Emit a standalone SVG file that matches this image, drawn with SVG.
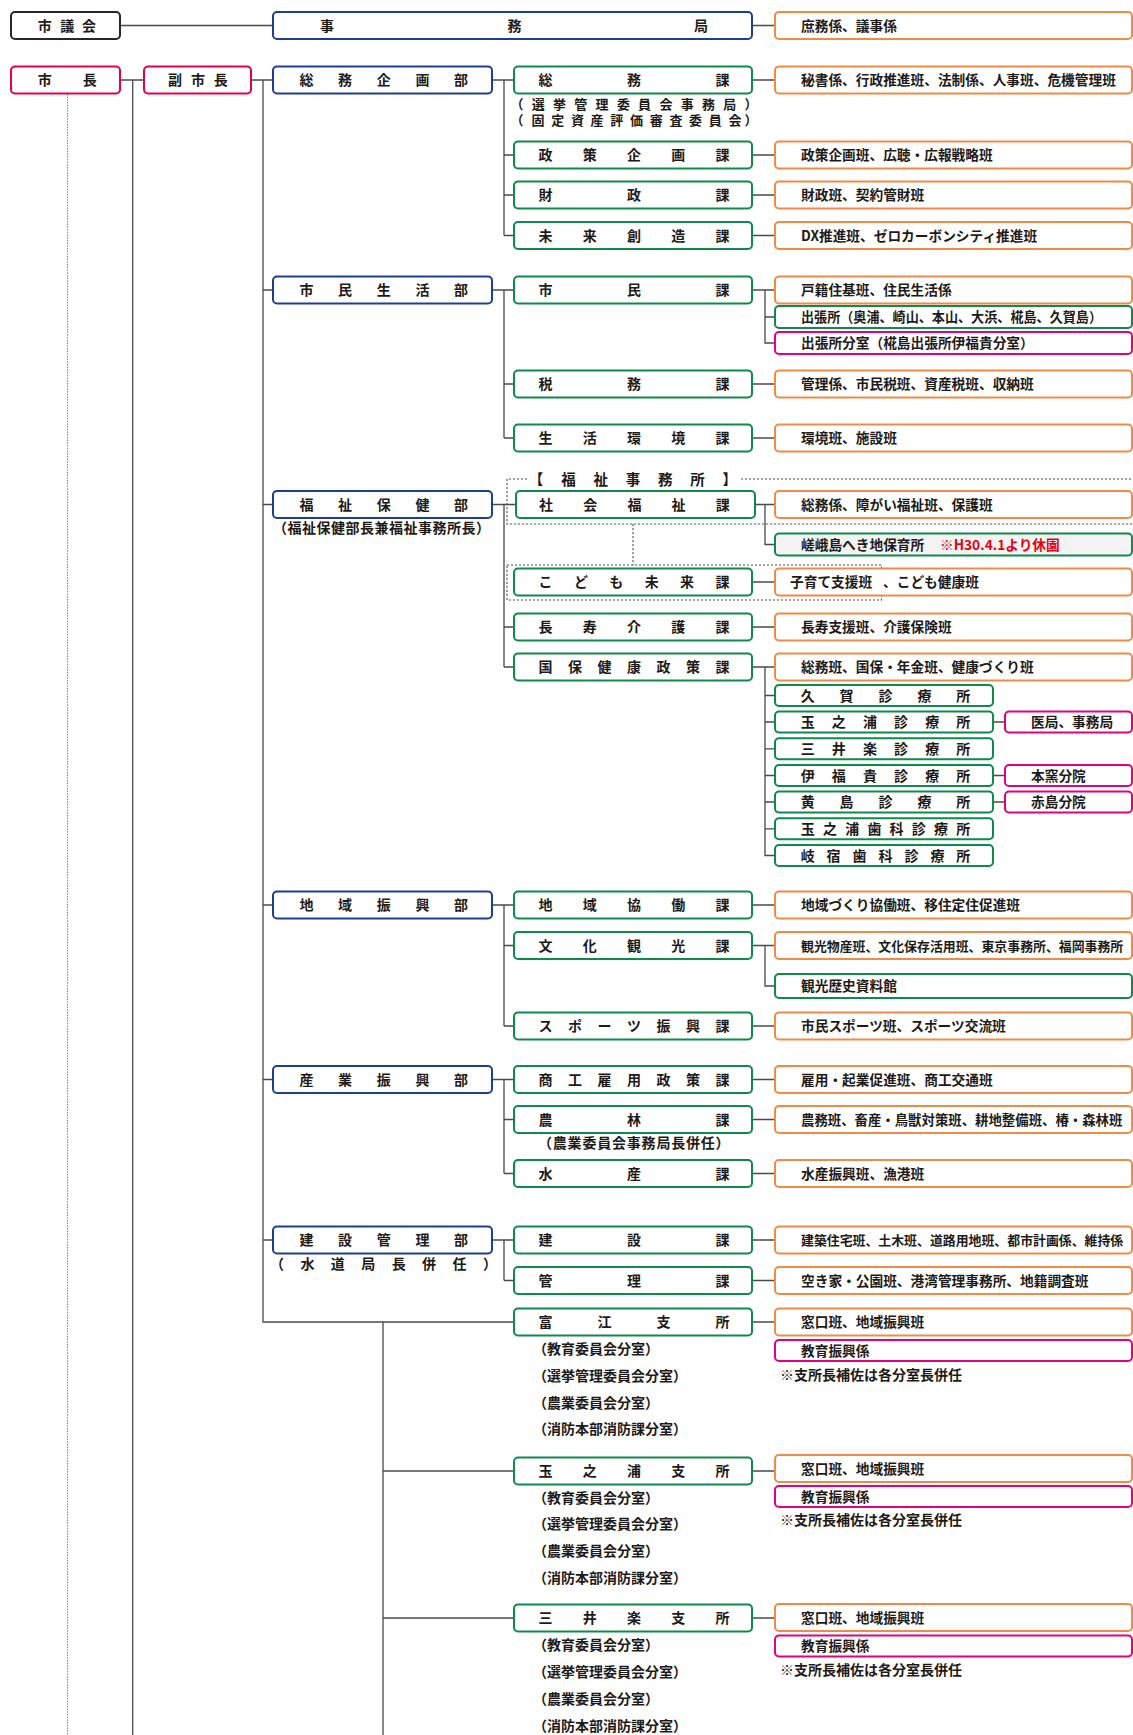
<svg xmlns="http://www.w3.org/2000/svg" width="1133" height="1735" viewBox="0 0 1133 1735">
<style>
rect{fill:#fff;stroke-width:2}
.bk{stroke:#2a2626}
.rd{stroke:#e5004c}
.bl{stroke:#1d3e92}
.gr{stroke:#0e8a4c}
.or{stroke:#ef8b46}
.pk{stroke:#e4007f}
.gy{fill:#f3f3f3}
text{font-family:"Noto Sans CJK JP","Noto Sans CJK SC",sans-serif;font-weight:700;font-size:14px;fill:#1e1a18}
.c{text-anchor:middle}
.s{font-size:13.7px}
.sm{font-size:13px}
.red{fill:#e60012}
.ln{fill:none;stroke:#4a4a4a;stroke-width:1.3}
.dt{fill:none;stroke:#555;stroke-width:1.1;stroke-dasharray:2.2 1.8}
.dt2{fill:none;stroke:#888;stroke-width:1.1;stroke-dasharray:1.5 1.2}
</style>
<g id="connectors">
<path class="ln" d="M120 25.5H273M752 25.5H775M120 80H144M132.7 80V1735M251 80H273M263 80V1322H514M263 290H273M263 504.5H273M263 905H273M263 1079.5H273M263 1240H273"/>
<path class="ln" d="M492 80H514M504 80V235.5M504 155H514M504 195H514M504 235.5H514M492 290H514M504 290V438M504 384H514M504 438H514M492 504.5H516M504 504.5V667M504 627H514M504 667H514M492 905H514M504 905V1026M504 945.5H514M504 1026H514M492 1079.5H514M504 1079.5V1173.5M504 1119.5H514M504 1173.5H514M492 1240H514M504 1240V1280.5M504 1280.5H514"/>
<path class="ln" d="M752 80H775M752 155H775M752 195H775M752 235.5H775M752 290H775M765 290V343H775M765 317H775M752 384H775M752 438H775M755 504.5H775M765 504.5V544.5H775M752 582H775M752 627H775M752 667H775M765 667V855.5H775M765 695.5H775M765 722H775M765 748.8H775M765 775.5H775M765 802H775M765 828.8H775M993 722H1005M993 775.5H1005M993 802H1005"/>
<path class="ln" d="M752 905H775M752 945.5H775M765 945.5V986H775M752 1026H775M752 1079.5H775M752 1119.5H775M752 1173.5H775M752 1240H775M752 1280.5H775M752 1322H775M383 1322V1735M383 1471H514M383 1618H514M752 1471H775M752 1618H775"/>
<path class="dt2" d="M67.5 94V1735"/>
<path class="dt" d="M527 479H507V524H1133M741 479H1133M633 524V565M507 565H881.5V600H507Z"/>
</g>
<g id="n-gikai"><rect class="bk" x="11" y="12" width="109" height="27" rx="4"/><text class="c" x="44.7 67.3 89" y="30.5">市議会</text></g>
<g id="n-jimukyoku"><rect class="bl" x="273" y="12" width="479" height="27" rx="4"/><text class="c" x="327 514.5 701" y="30.5">事務局</text></g>
<g id="n-shomu"><rect class="or" x="775" y="12" width="357" height="27" rx="4"/><text class="s" x="801" y="30.5">庶務係、議事係</text></g>
<g id="n-shicho"><rect class="rd" x="11" y="66.5" width="109" height="27" rx="4"/><text class="c" x="44.7 89.8" y="85">市長</text></g>
<g id="n-fukushicho"><rect class="rd" x="144" y="66.5" width="107" height="27" rx="4"/><text class="c" x="175 198 220.7" y="85">副市長</text></g>
<g id="d-somukikaku"><rect class="bl" x="273" y="66.5" width="219" height="27" rx="4"/><text class="c" x="306.5 345.1 383.7 422.4 461" y="85">総務企画部</text></g>
<g id="s-somu"><rect class="gr" x="514" y="66.5" width="238" height="27" rx="4"/><text class="c" x="545.5 634 722.5" y="85">総務課</text>
<text class="c sm" x="517 538.3 559.5 580.8 602.1 623.4 644.6 665.9 687.2 708.5 729.7 751" y="109">（選挙管理委員会事務局）</text>
<text class="c sm" x="517 538 557.7 577.4 597.1 616.8 636.5 656.2 675.9 695.6 715.3 735 751" y="125">（固定資産評価審査委員会）</text></g>
<g id="o-somu"><rect class="or" x="775" y="66.5" width="357" height="27" rx="4"/><text class="s" x="801" y="85">秘書係、行政推進班、法制係、人事班、危機管理班</text></g>
<g id="s-seisaku"><rect class="gr" x="514" y="141.5" width="238" height="27" rx="4"/><text class="c" x="545.5 589.8 634 678.3 722.5" y="160">政策企画課</text></g>
<g id="o-seisaku"><rect class="or" x="775" y="141.5" width="357" height="27" rx="4"/><text class="s" x="801" y="160">政策企画班、広聴・広報戦略班</text></g>
<g id="s-zaisei"><rect class="gr" x="514" y="181.5" width="238" height="27" rx="4"/><text class="c" x="545.5 634 722.5" y="200">財政課</text></g>
<g id="o-zaisei"><rect class="or" x="775" y="181.5" width="357" height="27" rx="4"/><text class="s" x="801" y="200">財政班、契約管財班</text></g>
<g id="s-mirai"><rect class="gr" x="514" y="222" width="238" height="27" rx="4"/><text class="c" x="545.5 589.8 634 678.3 722.5" y="240.5">未来創造課</text></g>
<g id="o-mirai"><rect class="or" x="775" y="222" width="357" height="27" rx="4"/><text class="s" x="801" y="240.5">DX推進班、ゼロカーボンシティ推進班</text></g>
<g id="d-shimin"><rect class="bl" x="273" y="276.5" width="219" height="27" rx="4"/><text class="c" x="306.5 345.1 383.7 422.4 461" y="295">市民生活部</text></g>
<g id="s-shimin"><rect class="gr" x="514" y="276.5" width="238" height="27" rx="4"/><text class="c" x="545.5 634 722.5" y="295">市民課</text></g>
<g id="o-shimin"><rect class="or" x="775" y="276.5" width="357" height="27" rx="4"/><text class="s" x="801" y="295">戸籍住基班、住民生活係</text></g>
<g id="g-shucho"><rect class="gr" x="775" y="306" width="357" height="22" rx="4"/><text class="s" x="801" y="322" textLength="301" lengthAdjust="spacingAndGlyphs">出張所（奥浦、崎山、本山、大浜、椛島、久賀島）</text></g>
<g id="p-bunshitsu"><rect class="pk" x="775" y="332" width="357" height="22" rx="4"/><text class="s" x="801" y="348">出張所分室（椛島出張所伊福貴分室）</text></g>
<g id="s-zeimu"><rect class="gr" x="514" y="370.5" width="238" height="27" rx="4"/><text class="c" x="545.5 634 722.5" y="389">税務課</text></g>
<g id="o-zeimu"><rect class="or" x="775" y="370.5" width="357" height="27" rx="4"/><text class="s" x="801" y="389">管理係、市民税班、資産税班、収納班</text></g>
<g id="s-kankyo"><rect class="gr" x="514" y="424.5" width="238" height="27" rx="4"/><text class="c" x="545.5 589.8 634 678.3 722.5" y="443">生活環境課</text></g>
<g id="o-kankyo"><rect class="or" x="775" y="424.5" width="357" height="27" rx="4"/><text class="s" x="801" y="443">環境班、施設班</text></g>
<g id="l-fukushijimusho"><text class="c" x="536 568.5 600.7 633 665.3 697.5 729.7" y="484.5" style="font-size:14.5px">【福祉事務所】</text></g>
<g id="d-fukushi"><rect class="bl" x="273" y="491" width="219" height="27" rx="4"/><text class="c" x="306.5 345.1 383.7 422.4 461" y="509.5">福祉保健部</text><text x="273" y="533" letter-spacing="0.5">（福祉保健部長兼福祉事務所長）</text></g>
<g id="s-shakai"><rect class="gr" x="516" y="491" width="239" height="27" rx="4"/><text class="c" x="546 590.2 634.4 678.6 722.8" y="509.5">社会福祉課</text></g>
<g id="o-shakai"><rect class="or" x="775" y="491" width="357" height="27" rx="4"/><text class="s" x="801" y="509.5">総務係、障がい福祉班、保護班</text></g>
<g id="g-saga"><rect class="gr gy" x="775" y="533.5" width="357" height="22" rx="4"/><text class="s" x="801" y="549.5">嵯峨島へき地保育所</text><text class="s red" x="940" y="549.5">※H30.4.1より休園</text></g>
<g id="s-kodomo"><rect class="gr" x="514" y="568.5" width="238" height="27" rx="4"/><text class="c" x="545.5 580.9 616.3 651.7 687.1 722.5" y="587">こども未来課</text></g>
<g id="o-kodomo"><rect class="or" x="775" y="568.5" width="357" height="27" rx="4"/><text class="s" x="790" y="587">子育て支援班</text><text class="s" x="883" y="587">、こども健康班</text></g>
<g id="s-choju"><rect class="gr" x="514" y="613.5" width="238" height="27" rx="4"/><text class="c" x="545.5 589.8 634 678.3 722.5" y="632">長寿介護課</text></g>
<g id="o-choju"><rect class="or" x="775" y="613.5" width="357" height="27" rx="4"/><text class="s" x="801" y="632">長寿支援班、介護保険班</text></g>
<g id="s-kokuho"><rect class="gr" x="514" y="653.5" width="238" height="27" rx="4"/><text class="c" x="545.5 575 604.5 634 663.5 693 722.5" y="672">国保健康政策課</text></g>
<g id="o-kokuho"><rect class="or" x="775" y="653.5" width="357" height="27" rx="4"/><text class="s" x="801" y="672">総務班、国保・年金班、健康づくり班</text></g>
<g id="c-kuga"><rect class="gr" x="775" y="685" width="218" height="21" rx="4"/><text class="c" x="807.7 846.6 885.5 924.4 963.3" y="700.5">久賀診療所</text></g>
<g id="c-tamanoura"><rect class="gr" x="775" y="711.5" width="218" height="21" rx="4"/><text class="c" x="807.7 838.8 869.9 901.1 932.2 963.3" y="727">玉之浦診療所</text></g>
<g id="p-ikyoku"><rect class="pk" x="1005" y="711.5" width="127" height="21" rx="4"/><text class="s" x="1031" y="727">医局、事務局</text></g>
<g id="c-miiraku"><rect class="gr" x="775" y="738.3" width="218" height="21" rx="4"/><text class="c" x="807.7 838.8 869.9 901.1 932.2 963.3" y="753.8">三井楽診療所</text></g>
<g id="c-ifuki"><rect class="gr" x="775" y="765" width="218" height="21" rx="4"/><text class="c" x="807.7 838.8 869.9 901.1 932.2 963.3" y="780.5">伊福貴診療所</text></g>
<g id="p-hongama"><rect class="pk" x="1005" y="765" width="127" height="21" rx="4"/><text class="s" x="1031" y="780.5">本窯分院</text></g>
<g id="c-ojika"><rect class="gr" x="775" y="791.5" width="218" height="21" rx="4"/><text class="c" x="807.7 846.6 885.5 924.4 963.3" y="807">黄島診療所</text></g>
<g id="p-akashima"><rect class="pk" x="1005" y="791.5" width="127" height="21" rx="4"/><text class="s" x="1031" y="807">赤島分院</text></g>
<g id="c-tamanoura-shika"><rect class="gr" x="775" y="818.3" width="218" height="21" rx="4"/><text class="c" x="807.7 829.9 852.2 874.4 896.6 918.8 941.1 963.3" y="833.8">玉之浦歯科診療所</text></g>
<g id="c-kishiku-shika"><rect class="gr" x="775" y="845" width="218" height="21" rx="4"/><text class="c" x="807.7 833.6 859.6 885.5 911.4 937.4 963.3" y="860.5">岐宿歯科診療所</text></g>
<g id="d-chiiki"><rect class="bl" x="273" y="891.5" width="219" height="27" rx="4"/><text class="c" x="306.5 345.1 383.7 422.4 461" y="910">地域振興部</text></g>
<g id="s-kyodo"><rect class="gr" x="514" y="891.5" width="238" height="27" rx="4"/><text class="c" x="545.5 589.8 634 678.3 722.5" y="910">地域協働課</text></g>
<g id="o-kyodo"><rect class="or" x="775" y="891.5" width="357" height="27" rx="4"/><text class="s" x="801" y="910">地域づくり協働班、移住定住促進班</text></g>
<g id="s-bunka"><rect class="gr" x="514" y="932" width="238" height="27" rx="4"/><text class="c" x="545.5 589.8 634 678.3 722.5" y="950.5">文化観光課</text></g>
<g id="o-bunka"><rect class="or" x="775" y="932" width="357" height="27" rx="4"/><text x="801" y="950.5" style="font-size:12.9px">観光物産班、文化保存活用班、東京事務所、福岡事務所</text></g>
<g id="g-shiryokan"><rect class="gr" x="775" y="974" width="357" height="24" rx="4"/><text class="s" x="801" y="991">観光歴史資料館</text></g>
<g id="s-sports"><rect class="gr" x="514" y="1012.5" width="238" height="27" rx="4"/><text class="c" x="545.5 575 604.5 634 663.5 693 722.5" y="1031">スポーツ振興課</text></g>
<g id="o-sports"><rect class="or" x="775" y="1012.5" width="357" height="27" rx="4"/><text class="s" x="801" y="1031">市民スポーツ班、スポーツ交流班</text></g>
<g id="d-sangyo"><rect class="bl" x="273" y="1066" width="219" height="27" rx="4"/><text class="c" x="306.5 345.1 383.7 422.4 461" y="1084.5">産業振興部</text></g>
<g id="s-shoko"><rect class="gr" x="514" y="1066" width="238" height="27" rx="4"/><text class="c" x="545.5 575 604.5 634 663.5 693 722.5" y="1084.5">商工雇用政策課</text></g>
<g id="o-shoko"><rect class="or" x="775" y="1066" width="357" height="27" rx="4"/><text class="s" x="801" y="1084.5">雇用・起業促進班、商工交通班</text></g>
<g id="s-norin"><rect class="gr" x="514" y="1106" width="238" height="27" rx="4"/><text class="c" x="545.5 634 722.5" y="1124.5">農林課</text><text x="538" y="1147.5" letter-spacing="0.8">（農業委員会事務局長併任）</text></g>
<g id="o-norin"><rect class="or" x="775" y="1106" width="357" height="27" rx="4"/><text x="801" y="1124.5" style="font-size:13.4px">農務班、畜産・鳥獣対策班、耕地整備班、椿・森林班</text></g>
<g id="s-suisan"><rect class="gr" x="514" y="1160" width="238" height="27" rx="4"/><text class="c" x="545.5 634 722.5" y="1178.5">水産課</text></g>
<g id="o-suisan"><rect class="or" x="775" y="1160" width="357" height="27" rx="4"/><text class="s" x="801" y="1178.5">水産振興班、漁港班</text></g>
<g id="d-kensetsu"><rect class="bl" x="273" y="1226.5" width="219" height="27" rx="4"/><text class="c" x="306.5 345.1 383.7 422.4 461" y="1245">建設管理部</text><text class="c" x="277 307.4 337.8 368.3 398.7 429.1 459.6 490" y="1269">（水道局長併任）</text></g>
<g id="s-kensetsu"><rect class="gr" x="514" y="1226.5" width="238" height="27" rx="4"/><text class="c" x="545.5 634 722.5" y="1245">建設課</text></g>
<g id="o-kensetsu"><rect class="or" x="775" y="1226.5" width="357" height="27" rx="4"/><text x="801" y="1245" style="font-size:12.9px">建築住宅班、土木班、道路用地班、都市計画係、維持係</text></g>
<g id="s-kanri"><rect class="gr" x="514" y="1267" width="238" height="27" rx="4"/><text class="c" x="545.5 634 722.5" y="1285.5">管理課</text></g>
<g id="o-kanri"><rect class="or" x="775" y="1267" width="357" height="27" rx="4"/><text class="s" x="801" y="1285.5">空き家・公園班、港湾管理事務所、地籍調査班</text></g>
<g id="s-tomie"><rect class="gr" x="514" y="1308.5" width="238" height="27" rx="4"/><text class="c" x="545.5 604.5 663.5 722.5" y="1327">富江支所</text>
<text x="533" y="1354">（教育委員会分室）</text><text x="533" y="1381">（選挙管理委員会分室）</text><text x="533" y="1407.5">（農業委員会分室）</text><text x="533" y="1434">（消防本部消防課分室）</text></g>
<g id="o-tomie"><rect class="or" x="775" y="1308.5" width="357" height="27" rx="4"/><text class="s" x="801" y="1327">窓口班、地域振興班</text></g>
<g id="p-tomie"><rect class="pk" x="775" y="1340" width="357" height="21" rx="4"/><text class="s" x="801" y="1355.5">教育振興係</text><text x="780" y="1380">※支所長補佐は各分室長併任</text></g>
<g id="s-tamanoura"><rect class="gr" x="514" y="1457.5" width="238" height="27" rx="4"/><text class="c" x="545.5 589.8 634 678.3 722.5" y="1476">玉之浦支所</text>
<text x="533" y="1502.5">（教育委員会分室）</text><text x="533" y="1529">（選挙管理委員会分室）</text><text x="533" y="1556">（農業委員会分室）</text><text x="533" y="1583">（消防本部消防課分室）</text></g>
<g id="o-tamanoura"><rect class="or" x="775" y="1455" width="357" height="27" rx="4"/><text class="s" x="801" y="1473.5">窓口班、地域振興班</text></g>
<g id="p-tamanoura"><rect class="pk" x="775" y="1486" width="357" height="21" rx="4"/><text class="s" x="801" y="1501.5">教育振興係</text><text x="780" y="1525">※支所長補佐は各分室長併任</text></g>
<g id="s-miiraku"><rect class="gr" x="514" y="1604.5" width="238" height="27" rx="4"/><text class="c" x="545.5 589.8 634 678.3 722.5" y="1623">三井楽支所</text>
<text x="533" y="1650">（教育委員会分室）</text><text x="533" y="1677">（選挙管理委員会分室）</text><text x="533" y="1704">（農業委員会分室）</text><text x="533" y="1730.5">（消防本部消防課分室）</text></g>
<g id="o-miiraku"><rect class="or" x="775" y="1604" width="357" height="27" rx="4"/><text class="s" x="801" y="1622.6">窓口班、地域振興班</text></g>
<g id="p-miiraku"><rect class="pk" x="775" y="1635.5" width="357" height="21" rx="4"/><text class="s" x="801" y="1651">教育振興係</text><text x="780" y="1675">※支所長補佐は各分室長併任</text></g>
</svg>
